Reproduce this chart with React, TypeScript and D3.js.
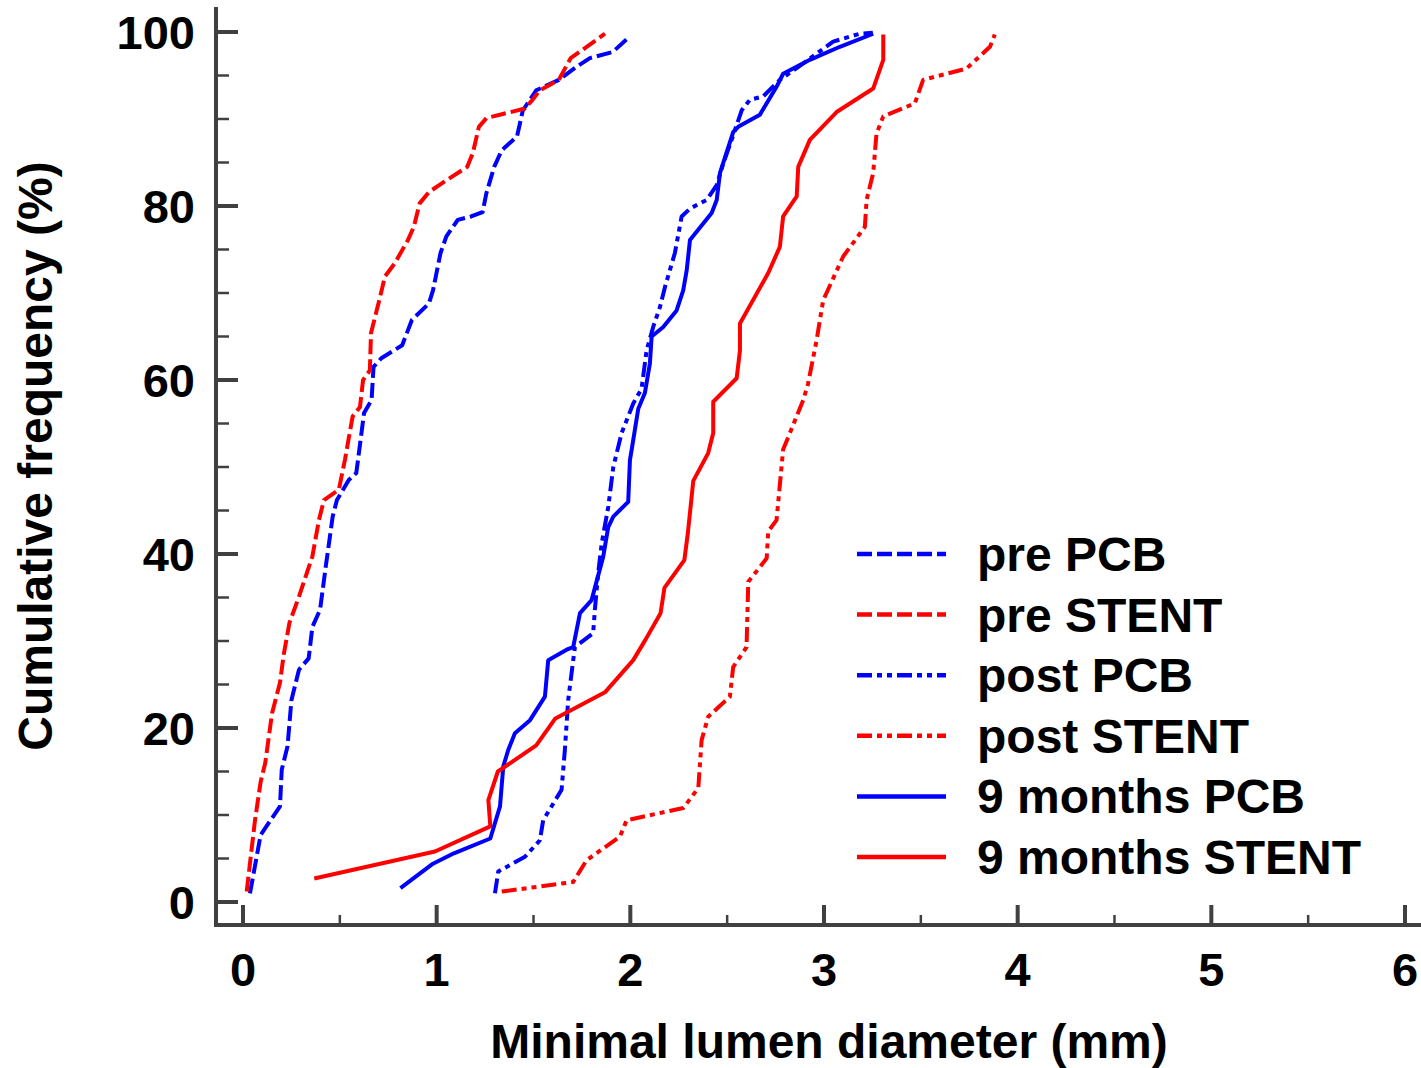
import React from "react";
import * as d3 from "d3";

// ---- Data (x: minimal lumen diameter mm, y: cumulative frequency %) ----
const preStentX = [0.019, 0.062, 0.091, 0.115, 0.15, 0.191, 0.21, 0.24, 0.289, 0.358, 0.392, 0.418, 0.495, 0.526, 0.566, 0.604, 0.62, 0.655, 0.661, 0.704, 0.733, 0.783, 0.852, 0.882, 0.912, 0.96, 1.04, 1.158, 1.187, 1.218, 1.257, 1.455, 1.495, 1.533, 1.631, 1.692, 1.75, 1.869];
const preStentY = [1.2, 9.4, 13.8, 16.0, 21.7, 25.2, 28.4, 32.1, 35.1, 39.7, 43.9, 46.2, 47.4, 50.8, 55.8, 56.9, 60.0, 61.1, 65.4, 69.2, 71.9, 73.4, 76.1, 77.6, 80.3, 81.6, 82.8, 84.5, 86.1, 89.1, 90.1, 91.2, 92.2, 93.3, 94.5, 97.0, 97.9, 99.8];

const prePcbX = [0.036, 0.091, 0.191, 0.2, 0.23, 0.25, 0.289, 0.339, 0.358, 0.398, 0.427, 0.463, 0.485, 0.546, 0.585, 0.625, 0.664, 0.674, 0.714, 0.822, 0.872, 0.96, 0.981, 1.02, 1.05, 1.109, 1.178, 1.237, 1.257, 1.297, 1.336, 1.415, 1.445, 1.514, 1.631, 1.722, 1.791, 1.909, 1.998];
const prePcbY = [1.0, 7.7, 11.0, 15.2, 17.9, 23.2, 26.7, 28.0, 31.6, 33.6, 38.5, 44.3, 46.2, 48.5, 49.3, 56.2, 57.7, 61.5, 62.5, 64.0, 66.9, 68.8, 70.3, 74.6, 76.5, 78.4, 78.8, 79.3, 81.5, 84.5, 86.4, 88.0, 91.0, 93.3, 94.5, 96.0, 97.0, 97.7, 99.5];

const postPcbX = [1.301, 1.318, 1.456, 1.533, 1.55, 1.645, 1.662, 1.679, 1.705, 1.714, 1.808, 1.817, 1.834, 1.852, 1.886, 1.912, 1.955, 2.015, 2.058, 2.084, 2.118, 2.153, 2.179, 2.23, 2.265, 2.308, 2.394, 2.446, 2.48, 2.523, 2.575, 2.617, 2.686, 2.772, 2.893, 3.047, 3.185, 3.252];
const postPcbY = [1.0, 3.5, 5.2, 7.1, 9.4, 12.9, 17.5, 23.2, 27.8, 29.3, 30.9, 33.6, 37.8, 41.2, 45.4, 50.0, 53.9, 57.3, 59.0, 63.4, 66.1, 68.4, 70.7, 74.6, 78.8, 79.7, 80.7, 82.4, 84.9, 87.6, 91.0, 92.2, 92.6, 94.5, 96.4, 98.9, 99.8, 99.9];

const postStentX = [1.336, 1.705, 1.774, 1.946, 1.981, 2.273, 2.351, 2.368, 2.402, 2.514, 2.531, 2.6, 2.609, 2.704, 2.712, 2.755, 2.789, 2.893, 2.918, 2.962, 2.996, 3.013, 3.099, 3.211, 3.22, 3.254, 3.271, 3.306, 3.469, 3.512, 3.736, 3.857, 3.882];
const postStentY = [1.2, 2.3, 4.8, 7.5, 9.4, 10.8, 13.1, 18.6, 21.3, 23.6, 27.0, 29.3, 36.8, 39.5, 42.6, 43.9, 52.0, 57.7, 59.6, 64.6, 69.2, 70.0, 74.2, 77.6, 80.7, 83.8, 88.3, 90.3, 91.8, 94.5, 95.8, 98.3, 99.7];

const m9PcbX = [0.813, 0.981, 1.089, 1.277, 1.327, 1.344, 1.37, 1.404, 1.482, 1.559, 1.576, 1.671, 1.705, 1.74, 1.8, 1.86, 1.886, 1.912, 1.989, 1.998, 2.007, 2.041, 2.075, 2.101, 2.11, 2.17, 2.239, 2.273, 2.291, 2.308, 2.42, 2.446, 2.463, 2.531, 2.557, 2.669, 2.755, 2.789, 2.927, 3.082, 3.254];
const m9PcbY = [1.6, 4.4, 5.6, 7.3, 11.0, 15.6, 17.5, 19.4, 20.9, 23.6, 27.8, 29.0, 29.3, 33.2, 34.7, 39.7, 43.1, 44.3, 46.0, 50.8, 52.0, 56.7, 58.5, 61.9, 65.0, 66.1, 68.0, 70.3, 72.6, 76.1, 79.2, 80.7, 83.8, 88.5, 89.1, 90.5, 93.7, 95.2, 96.8, 98.3, 99.8];

const m9StentX = [0.368, 0.991, 1.277, 1.267, 1.316, 1.514, 1.613, 1.869, 2.015, 2.077, 2.156, 2.176, 2.279, 2.297, 2.325, 2.402, 2.428, 2.428, 2.549, 2.566, 2.566, 2.712, 2.772, 2.789, 2.859, 2.867, 2.927, 3.065, 3.254, 3.306, 3.306];
const m9StentY = [2.7, 5.8, 8.7, 11.7, 15.0, 18.0, 21.1, 24.1, 27.8, 30.1, 33.2, 36.1, 39.3, 42.4, 48.4, 51.6, 53.9, 57.5, 60.2, 63.4, 66.5, 72.3, 75.3, 78.8, 81.1, 84.5, 87.6, 90.8, 93.5, 96.8, 99.7];

const seriesNames = ["pre PCB", "pre STENT", "post PCB", "post STENT", "9 months PCB", "9 months STENT"];
const seriesX = [prePcbX, preStentX, postPcbX, postStentX, m9PcbX, m9StentX];
const seriesY = [prePcbY, preStentY, postPcbY, postStentY, m9PcbY, m9StentY];
const seriesColors = ["#0000ff", "#ff0000", "#0000ff", "#ff0000", "#0000ff", "#ff0000"];
const seriesDash = ["15,5", "15,5", "15,5,5,5,5,5", "15,5,5,5,5,5", "none", "none"];

const xTicks = [0, 1, 2, 3, 4, 5, 6];
const yTicks = [0, 20, 40, 60, 80, 100];

const W = 1421;
const H = 1068;
const FONT = "'Liberation Sans', Arial, sans-serif";
const AXIS = "#404040";

export default function App() {
  const x = d3.scaleLinear().domain([0, 6]).range([243, 1405]);
  const y = d3.scaleLinear().domain([0, 100]).range([902, 32]);
  const axisX = 216;
  const axisY = 925;

  const line = d3
    .line<[number, number]>()
    .x((d) => x(d[0]))
    .y((d) => y(d[1]));

  const xMinor = d3.range(0, 6.01, 0.5).filter((v) => !xTicks.includes(v));
  const yMinor = d3.range(0, 100.1, 5).filter((v) => !yTicks.includes(v));

  const legendX0 = 857;
  const legendX1 = 946;
  const legendTextX = 977;
  const legendY0 = 554;
  const legendStep = 60.6;

  return (
    <svg
      width={W}
      height={H}
      style={{ position: "absolute", left: 0, top: 0, background: "#fff" }}
      fontFamily={FONT}
    >
      <rect x={0} y={0} width={W} height={H} fill="#fff" />
      {/* curves */}
      {seriesNames.map((name, i) => {
        const pts = seriesX[i].map((v, j) => [v, seriesY[i][j]] as [number, number]);
        return (
          <path
            key={name}
            d={line(pts) || ""}
            fill="none"
            stroke={seriesColors[i]}
            strokeWidth={4}
            strokeDasharray={seriesDash[i] === "none" ? undefined : seriesDash[i]}
            strokeLinejoin="round"
          />
        );
      })}

      {/* axes */}
      <line x1={axisX} x2={axisX} y1={7} y2={axisY + 2} stroke={AXIS} strokeWidth={4} />
      <line x1={axisX - 2} x2={W} y1={axisY} y2={axisY} stroke={AXIS} strokeWidth={4} />
      {yTicks.map((t) => (
        <g key={"yt" + t}>
          <line x1={axisX} x2={axisX + 22} y1={y(t)} y2={y(t)} stroke={AXIS} strokeWidth={4} />
          <text
            x={195}
            y={y(t)}
            textAnchor="end"
            dominantBaseline="central"
            fontSize={47}
            fontWeight="bold"
            fill="#000"
          >
            {t}
          </text>
        </g>
      ))}
      {yMinor.map((t) => (
        <line key={"ym" + t} x1={axisX} x2={axisX + 13} y1={y(t)} y2={y(t)} stroke={AXIS} strokeWidth={2.5} />
      ))}
      {xTicks.map((t) => (
        <g key={"xt" + t}>
          <line x1={x(t)} x2={x(t)} y1={axisY} y2={axisY - 20} stroke={AXIS} strokeWidth={4} />
          <text x={x(t)} y={986} textAnchor="middle" fontSize={47} fontWeight="bold" fill="#000">
            {t}
          </text>
        </g>
      ))}
      {xMinor.map((t) => (
        <line key={"xm" + t} x1={x(t)} x2={x(t)} y1={axisY} y2={axisY - 10} stroke={AXIS} strokeWidth={2.5} />
      ))}

      {/* axis titles */}
      <text x={829} y={1058} textAnchor="middle" fontSize={48} fontWeight="bold" fill="#000">
        Minimal lumen diameter (mm)
      </text>
      <text
        transform={`translate(52,456) rotate(-90)`}
        textAnchor="middle"
        fontSize={48}
        fontWeight="bold"
        fill="#000"
      >
        Cumulative frequency (%)
      </text>

      {/* legend */}
      {seriesNames.map((name, i) => {
        const ly = legendY0 + i * legendStep;
        return (
          <g key={"lg" + name}>
            <line
              x1={legendX0}
              x2={legendX1}
              y1={ly}
              y2={ly}
              stroke={seriesColors[i]}
              strokeWidth={4.5}
              strokeDasharray={seriesDash[i] === "none" ? undefined : seriesDash[i]}
            />
            <text x={legendTextX} y={ly + 17} fontSize={48} fontWeight="bold" fill="#000">
              {name}
            </text>
          </g>
        );
      })}
    </svg>
  );
}
